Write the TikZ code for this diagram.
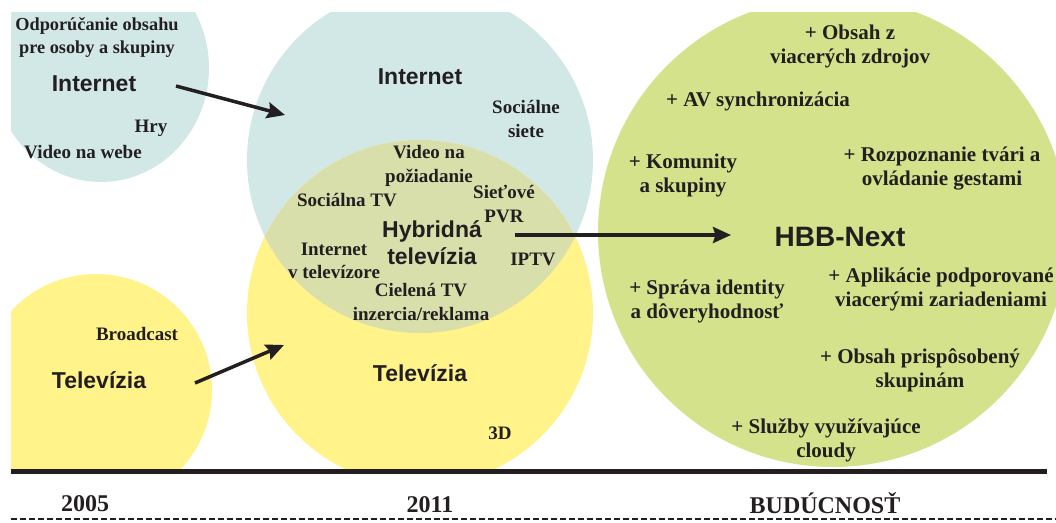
\documentclass[tikz,border=0pt]{standalone}
\usepackage{fontspec}
\setmainfont{Liberation Serif}
\newfontfamily\arialfont{Liberation Sans}
\usetikzlibrary{arrows.meta}
\definecolor{cblue}{RGB}{210,232,231}
\definecolor{cyellow}{RGB}{255,243,138}
\definecolor{cgreen}{RGB}{212,227,139}
\definecolor{clens}{RGB}{217,223,170}
\definecolor{ink}{RGB}{35,31,32}
\begin{document}
\begin{tikzpicture}[x=1pt,y=-1pt,
  lbl/.style={font=\fontsize{19}{23.5}\selectfont\bfseries, text=ink, align=center, inner sep=0pt},
  rlbl/.style={font=\fontsize{21}{24}\selectfont\bfseries, text=ink, align=center, inner sep=0pt},
  sans/.style={font=\arialfont\fontsize{23}{27}\selectfont\bfseries, text=ink, align=center, inner sep=0pt},
  year/.style={font=\fontsize{24}{26}\selectfont\bfseries, text=ink, inner sep=0pt},
  arr/.style={draw=ink, line width=3.5pt, -{Stealth[length=18pt,width=16pt,inset=2.5pt]}}
]
\useasboundingbox (0,0) rectangle (1056,522);
\begin{scope}
  \clip (11,12) rectangle (1056,471);
  \fill[cblue] (101,68) ellipse [x radius=108pt, y radius=114pt];
  \fill[cyellow] (96,390) circle [radius=116pt];
  \fill[cblue] (420,160) circle [radius=173pt];
  \fill[cyellow] (420,313) circle [radius=173pt];
  \begin{scope}
    \clip (420,160) circle [radius=173pt];
    \fill[clens] (420,313) circle [radius=173pt];
  \end{scope}
  \fill[cgreen] (833,232) circle [radius=235pt];
\end{scope}
\draw[ink, line width=5pt] (11,471) -- (1047,471);
\draw[ink, line width=2pt, dash pattern=on 6pt off 3pt] (11,519) -- (1056,519);

% left top circle
\node[lbl, font=\fontsize{18.3}{23}\selectfont\bfseries] (odp) at (97,38) {Odporúčanie obsahu\\pre osoby a skupiny};
\node[sans] (inet1) at (94,84) {Internet};
\node[lbl] (hry) at (151,128) {Hry};
\node[lbl] (vweb) at (83,152) {Video na webe};
% left bottom circle
\node[lbl] (bc) at (137,334) {Broadcast};
\node[sans] (tv1) at (99,380) {Televízia};
% middle
\node[sans] (inet2) at (420,77) {Internet};
\node[lbl] (soc) at (526,119) {Sociálne\\siete};
\node[lbl] (vod) at (429,166) {Video na\\požiadanie};
\node[lbl] (stv) at (347,200) {Sociálna TV};
\node[lbl] (pvr) at (504,204) {Sieťové\\PVR};
\node[sans] (hyb) at (432,243) {Hybridná\\televízia};
\node[lbl] (itv) at (334,261) {Internet\\v televízore};
\node[lbl] (iptv) at (533,259) {IPTV};
\node[lbl] (ctv) at (421,302) {Cielená TV\\inzercia/reklama};
\node[sans] (tv2) at (420,373) {Televízia};
\node[lbl] (d3) at (500,433) {3D};
% right circle
\node[rlbl] (o1) at (850,46) {+ Obsah z\\viacerých zdrojov};
\node[rlbl] (o2) at (758,101) {+ AV synchronizácia};
\node[rlbl] (o3) at (683,175) {+ Komunity\\a skupiny};
\node[rlbl] (o4) at (942,169) {+ Rozpoznanie tvári a\\ovládanie gestami};
\node[sans, font=\arialfont\fontsize{28}{32}\selectfont\bfseries] (hbb) at (840,237) {HBB-Next};
\node[rlbl] (o5) at (707,301) {+ Správa identity\\a dôveryhodnosť};
\node[rlbl] (o6) at (941,289) {+ Aplikácie podporované\\viacerými zariadeniami};
\node[rlbl] (o7) at (920,370) {+ Obsah prispôsobený\\skupinám};
\node[rlbl] (o8) at (826,440) {+ Služby využívajúce\\cloudy};
% years
\node[year] (y1) at (85,504) {2005};
\node[year] (y2) at (430,505) {2011};
\node[year] (y3) at (825,503) {BUDÚCNOSŤ};
% arrows
\coordinate (a1s) at (176,86);
\coordinate (a1e) at (285,115);
\coordinate (a2s) at (195,383);
\coordinate (a2e) at (284,345);
\coordinate (a3s) at (515,235);
\coordinate (a3e) at (731,235);
\draw[arr] (a1s) -- (a1e);
\draw[arr] (a2s) -- (a2e);
\draw[arr] (a3s) -- (a3e);
\end{tikzpicture}
\end{document}
